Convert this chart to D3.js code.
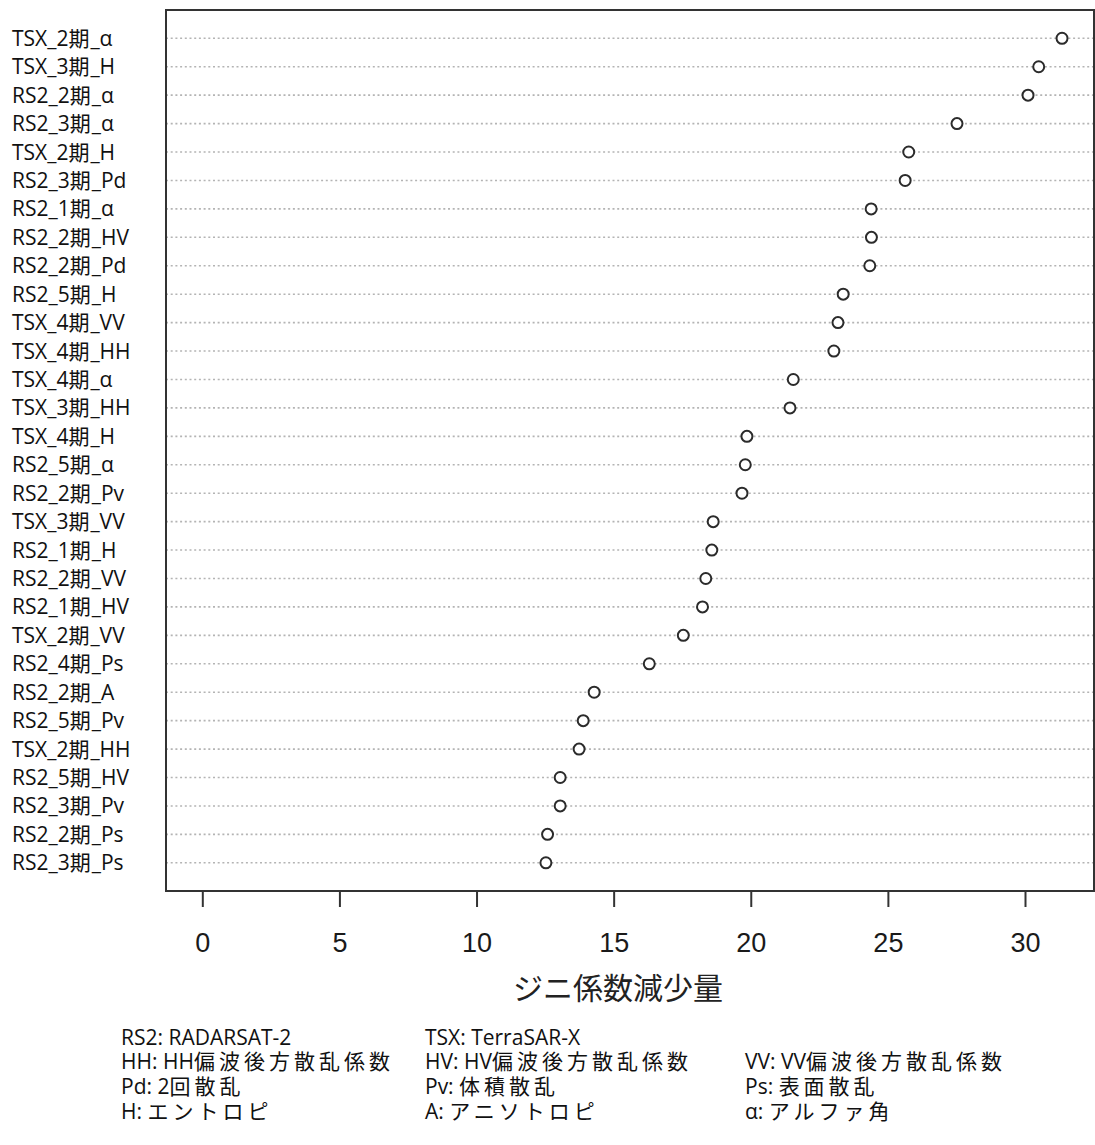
<!DOCTYPE html>
<html>
<head>
<meta charset="utf-8">
<script src="https://cdn.jsdelivr.net/npm/d3@7"></script>
<style>
  body { margin: 0; background: #fff; }
  svg { display: block; }
</style>
</head>
<body>
<script>
// ---------- DATA ----------
var features = [
  "TSX_2期_α", "TSX_3期_H", "RS2_2期_α", "RS2_3期_α", "TSX_2期_H", "RS2_3期_Pd",
  "RS2_1期_α", "RS2_2期_HV", "RS2_2期_Pd", "RS2_5期_H", "TSX_4期_VV", "TSX_4期_HH",
  "TSX_4期_α", "TSX_3期_HH", "TSX_4期_H", "RS2_5期_α", "RS2_2期_Pv", "TSX_3期_VV",
  "RS2_1期_H", "RS2_2期_VV", "RS2_1期_HV", "TSX_2期_VV", "RS2_4期_Ps", "RS2_2期_A",
  "RS2_5期_Pv", "TSX_2期_HH", "RS2_5期_HV", "RS2_3期_Pv", "RS2_2期_Ps", "RS2_3期_Ps"
];
var giniDecrease = [
  31.35, 30.50, 30.11, 27.52, 25.76, 25.63,
  24.39, 24.40, 24.34, 23.37, 23.18, 23.03,
  21.55, 21.43, 19.86, 19.80, 19.68, 18.63,
  18.58, 18.36, 18.24, 17.54, 16.30, 14.29,
  13.89, 13.74, 13.05, 13.05, 12.59, 12.53
];
var xTicks = [0, 5, 10, 15, 20, 25, 30];
var xTitle = "ジニ係数減少量";

// legend: three columns, four rows ("" = empty cell)
var legendCol1 = ["RS2: RADARSAT-2", "HH: HH偏波後方散乱係数", "Pd: 2回散乱", "H: エントロピ"];
var legendCol2 = ["TSX: TerraSAR-X", "HV: HV偏波後方散乱係数", "Pv: 体積散乱", "A: アニソトロピ"];
var legendCol3 = ["", "VV: VV偏波後方散乱係数", "Ps: 表面散乱", "α: アルファ角"];

// ---------- DIMENSIONS ----------
var w = 1095, h = 1145;
var box = { left: 166, top: 10, right: 1094, bottom: 891 };

var latinFont = "'Open Sans', 'Noto Sans CJK JP', sans-serif";
var cjkFont = "'Noto Sans CJK JP', sans-serif";

var svg = d3.select("body").append("svg")
  .attr("width", w)
  .attr("height", h);

// ---------- HELPERS ----------
// split a string into latin / CJK runs; CJK runs get a little extra spacing
function isCJK(ch) {
  return /[\u3000-\u30ff\u4e00-\u9fff]/.test(ch);
}
function runs(s) {
  var out = [];
  Array.from(s).forEach(function (ch) {
    var c = isCJK(ch);
    if (out.length && out[out.length - 1].cjk === c) out[out.length - 1].t += ch;
    else out.push({ t: ch, cjk: c });
  });
  return out;
}
function mixedText(sel, s, cjkSpacing) {
  runs(s).forEach(function (r) {
    var ts = sel.append("tspan")
      .text(r.t)
      .attr("font-family", r.cjk ? cjkFont : latinFont);
    if (r.cjk) ts.attr("letter-spacing", cjkSpacing + "px");
  });
}

// ---------- SCALES ----------
var x = d3.scaleLinear().domain([0, 30]).range([202.3, 1025]);
var y = d3.scalePoint().domain(features).range([38.3, 862.8]);

// ---------- DOTTED GUIDE LINES ----------
svg.append("g")
  .selectAll("line")
  .data(features)
  .enter()
  .append("line")
  .attr("x1", box.left)
  .attr("x2", box.right)
  .attr("y1", d => y(d))
  .attr("y2", d => y(d))
  .attr("stroke", "#b4b4b4")
  .attr("stroke-width", 1.6)
  .attr("stroke-dasharray", "2,2.7");

// ---------- BOX ----------
svg.append("rect")
  .attr("x", box.left)
  .attr("y", box.top)
  .attr("width", box.right - box.left)
  .attr("height", box.bottom - box.top)
  .attr("fill", "none")
  .attr("stroke", "#333")
  .attr("stroke-width", 2);

// ---------- POINTS ----------
svg.append("g")
  .selectAll("circle")
  .data(features)
  .enter()
  .append("circle")
  .attr("cx", (d, i) => x(giniDecrease[i]))
  .attr("cy", d => y(d))
  .attr("r", 5.5)
  .attr("fill", "#fff")
  .attr("stroke", "#2b2b2b")
  .attr("stroke-width", 2);

// ---------- ROW LABELS ----------
var labelG = svg.append("g");
features.forEach(function (f) {
  var t = labelG.append("text")
    .attr("x", 12)
    .attr("y", y(f))
    .attr("dy", "0.36em")
    .attr("font-size", "21px")
    .attr("fill", "#111");
  mixedText(t, f, 1);
});

// ---------- X AXIS ----------
var xAxis = svg.append("g")
  .attr("transform", "translate(0," + box.bottom + ")")
  .call(d3.axisBottom(x).tickValues(xTicks).tickSize(16).tickPadding(26));

xAxis.select(".domain").remove();
xAxis.selectAll(".tick line")
  .attr("stroke", "#333")
  .attr("stroke-width", 2);
xAxis.selectAll(".tick text")
  .attr("font-family", "'Liberation Sans', Arial, sans-serif")
  .attr("font-size", "27px")
  .attr("fill", "#1a1a1a");

svg.append("text")
  .text(xTitle)
  .attr("x", 618)
  .attr("y", 988)
  .attr("dy", "0.36em")
  .attr("text-anchor", "middle")
  .attr("font-family", cjkFont)
  .attr("font-size", "30px")
  .attr("fill", "#222");

// ---------- LEGEND ----------
var legendX = [121, 425, 745];
var legendY0 = 1037, legendStep = 24.8;

[legendCol1, legendCol2, legendCol3].forEach(function (col, ci) {
  col.forEach(function (s, ri) {
    if (!s) return;
    var t = svg.append("text")
      .attr("x", legendX[ci])
      .attr("y", legendY0 + ri * legendStep)
      .attr("dy", "0.36em")
      .attr("font-size", "21px")
      .attr("fill", "#111");
    mixedText(t, s, 4);
  });
});
</script>
</body>
</html>
